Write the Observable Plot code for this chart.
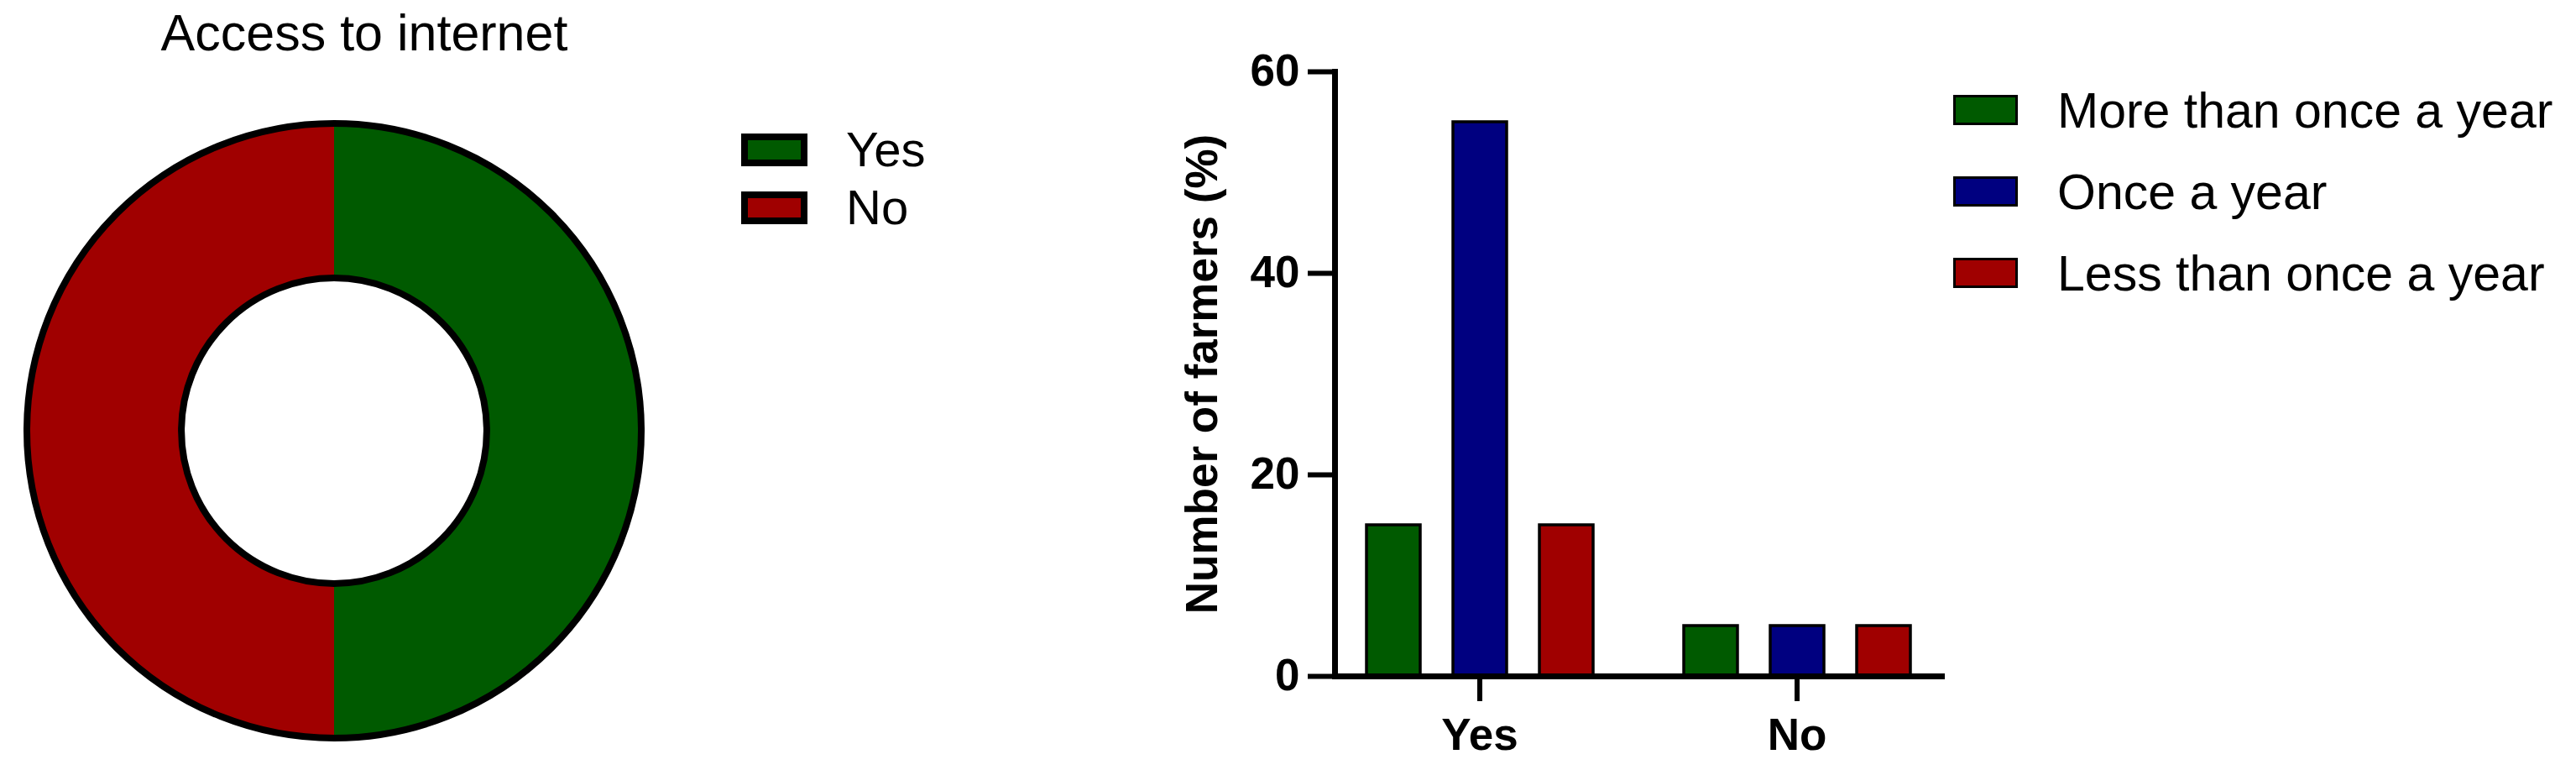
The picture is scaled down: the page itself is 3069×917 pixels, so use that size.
<!DOCTYPE html>
<html><head><meta charset="utf-8">
<script src="https://cdn.jsdelivr.net/npm/d3@7"></script>
<script src="https://cdn.jsdelivr.net/npm/@observablehq/plot@0.6"></script>
<style>
html,body{margin:0;padding:0;background:#fff;}
#root{position:relative;width:3069px;height:917px;overflow:hidden;font-family:"Liberation Sans",Arial,sans-serif;}
#root > svg{position:absolute;}
</style></head><body><div id="root"></div>
<script>
// ---- donut data ----
const donutTitle = "Access to internet";
const donutLabels = ["Yes", "No"];
const donutValues = [50, 50];
const donutColors = ["#005a00", "#a00000"];

// ---- bar data ----
const categories = ["Yes", "No"];
const seriesNames = ["More than once a year", "Once a year", "Less than once a year"];
const seriesColors = ["#005a00", "#000080", "#a00000"];
const valuesMore = [15, 5];
const valuesOnce = [55, 5];
const valuesLess = [15, 5];
const yTicks = [0, 20, 40, 60];
const yLabel = "Number of farmers (%)";

const seriesValues = [valuesMore, valuesOnce, valuesLess];
const rows = categories.flatMap((c, i) => seriesNames.map((s, j) => ({category: c, series: s, value: seriesValues[j][i]})));

const root = document.getElementById("root");

// ---- donut ----
const donut = Plot.plot({
  width: 800, height: 917,
  marginLeft: 0, marginRight: 4, marginTop: 143, marginBottom: 34,
  style: {background: "transparent"},
  marks: [
    (index, scales, values, dims) => {
      const fw = dims.width - dims.marginLeft - dims.marginRight;
      const fh = dims.height - dims.marginTop - dims.marginBottom;
      const cx = dims.marginLeft + fw / 2;
      const cy = dims.marginTop + fh / 2;
      const R = Math.min(fw, fh) / 2 - 4;
      const r = R * 0.497;
      const g = d3.create("svg:g").attr("transform", `translate(${cx},${cy})`);
      const arcs = d3.pie().sort(null)(donutValues);
      const arc = d3.arc().innerRadius(r).outerRadius(R);
      g.selectAll("path").data(arcs).join("path")
        .attr("d", arc).attr("fill", (d, i) => donutColors[i]);
      g.append("circle").attr("r", R).attr("fill", "none").attr("stroke", "black").attr("stroke-width", 8);
      g.append("circle").attr("r", r).attr("fill", "none").attr("stroke", "black").attr("stroke-width", 8);
      return g.node();
    }
  ]
});
donut.style.left = "0px"; donut.style.top = "0px";
root.appendChild(donut);

// ---- bars ----
const bar = Plot.plot({
  width: 960, height: 917,
  marginLeft: 209, marginRight: 26, marginTop: 85, marginBottom: 112,
  style: {fontFamily: "'Liberation Sans', Arial, sans-serif", fontSize: "53px", fontWeight: "bold", color: "black", background: "transparent", overflow: "visible"},
  fx: {domain: categories, paddingInner: 0.087, paddingOuter: 0, label: null},
  x: {domain: seriesNames, paddingInner: 0.38, paddingOuter: 0.354, axis: null},
  y: {domain: [0, 60]},
  color: {domain: seriesNames, range: seriesColors},
  marks: [
    Plot.barY(rows, {fx: "category", x: "series", y: "value", fill: "series", stroke: "black", strokeWidth: 3.5}),
    Plot.frame({anchor: "left", facet: "super", strokeWidth: 7}),
    Plot.frame({anchor: "bottom", facet: "super", strokeWidth: 7}),
    Plot.axisY({ticks: yTicks, tickSize: 32, tickPadding: 10, strokeWidth: 6, label: yLabel, labelAnchor: "center", labelOffset: 178, labelArrow: "none"}),
    Plot.axisFx({anchor: "bottom", tickSize: 30, tickPadding: 20, strokeWidth: 6, label: null})
  ]
});
bar.style.left = "1380px"; bar.style.top = "0px";
root.appendChild(bar);

// ---- title & legends overlay ----
const ov = d3.create("svg").attr("width", 3069).attr("height", 917)
  .style("left", "0px").style("top", "0px")
  .attr("font-family", "'Liberation Sans', Arial, sans-serif");
ov.append("text").attr("x", 434).attr("y", 60).attr("text-anchor", "middle")
  .attr("font-size", 61).text(donutTitle);

const lg1 = ov.append("g");
donutLabels.forEach((lab, i) => {
  const y0 = 159 + i * 69;
  lg1.append("rect").attr("x", 887).attr("y", y0 + 4).attr("width", 71).attr("height", 31)
    .attr("fill", donutColors[i]).attr("stroke", "black").attr("stroke-width", 8);
  lg1.append("text").attr("x", 1008).attr("y", y0 + 39).attr("font-size", 58).text(lab);
});

const lg2 = ov.append("g");
seriesNames.forEach((lab, i) => {
  const y0 = 113 + i * 97;
  lg2.append("rect").attr("x", 2328.5).attr("y", y0 + 1.5).attr("width", 74).attr("height", 33)
    .attr("fill", seriesColors[i]).attr("stroke", "black").attr("stroke-width", 3);
  lg2.append("text").attr("x", 2451).attr("y", y0 + 39).attr("font-size", 59).text(lab);
});
root.appendChild(ov.node());
</script>
</body></html>
